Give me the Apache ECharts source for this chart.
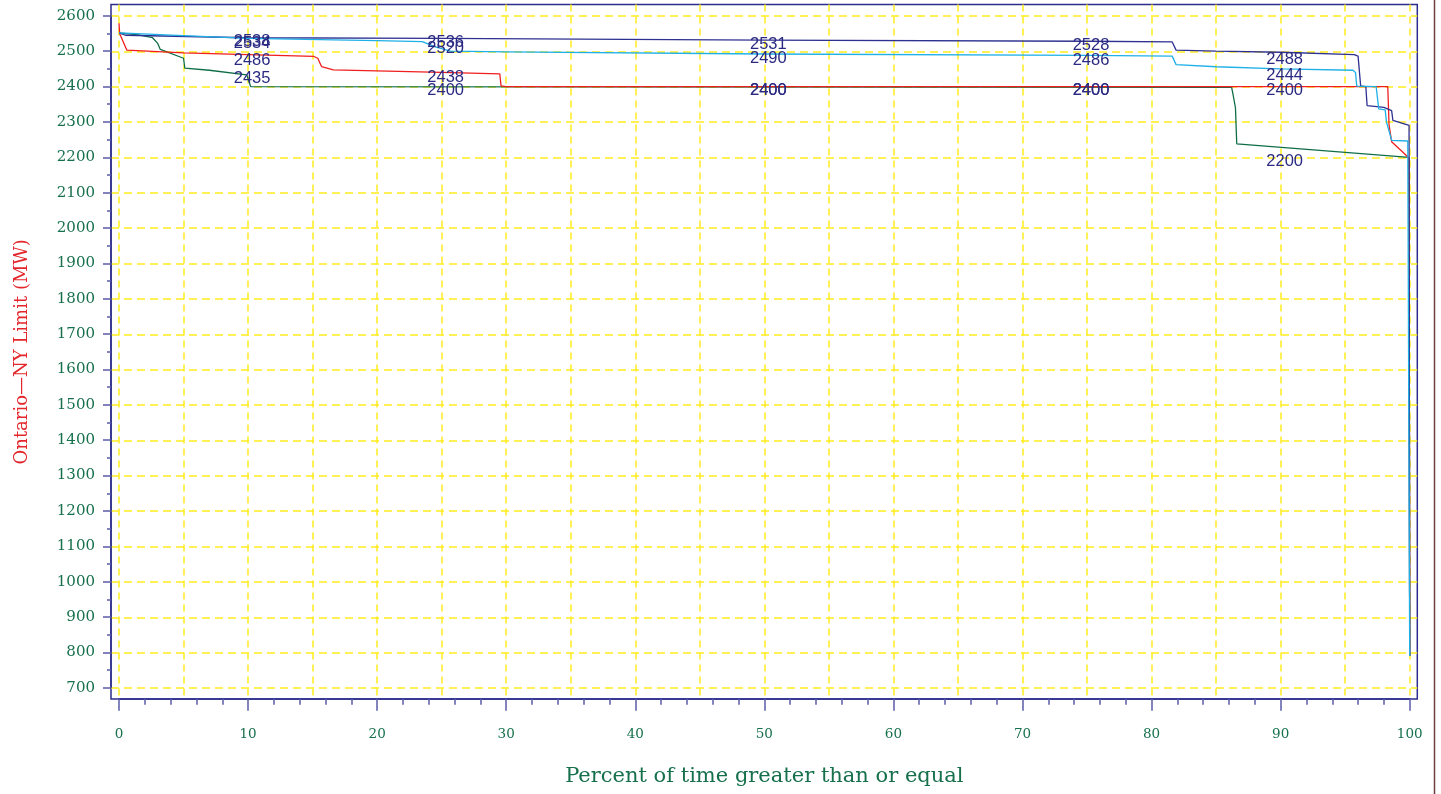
<!DOCTYPE html>
<html>
<head>
<meta charset="utf-8">
<script src="https://cdn.jsdelivr.net/npm/echarts@6/dist/echarts.min.js"></script>
<style>html,body{margin:0;padding:0;background:#fff}#c{width:1441px;height:794px}</style>
</head>
<body>
<div id="c"></div>
<script>
// ---- data ----
const xTitle = 'Percent of time greater than or equal';
const yTitle = 'Ontario\u2014NY Limit (MW)';

const navyCurve = [[0,2552],[0.5,2545],[10,2538],[25,2536],[50,2531],[75,2528],[81.6,2526],[81.9,2503],[85,2500],[90,2497],[95.7,2490],[96.0,2486],[96.2,2402],[96.6,2400],[96.7,2346],[98.0,2341],[98.6,2332],[98.7,2304],[99.95,2290],[100,790]];
const cyanCurve = [[0,2552],[10,2536],[20,2530],[23.5,2527],[24.5,2512],[25.7,2500],[30,2498],[50,2492],[75,2488],[81.6,2486],[81.9,2462],[85,2456],[90,2450],[95.6,2446],[95.8,2440],[95.9,2401],[97.4,2400],[97.6,2337],[98.1,2334],[98.2,2300],[98.6,2248],[99.85,2246],[100,790]];
const redCurve = [[0,2579],[0.05,2550],[0.6,2503],[5,2495],[10,2490],[15.1,2485],[15.4,2480],[15.7,2456],[16.6,2447],[25,2440],[29.5,2436],[29.6,2402],[30,2400],[98.3,2400],[98.4,2292],[98.5,2288],[98.6,2244],[99.95,2198],[100,790]];
const greenCurve = [[0,2552],[1.5,2546],[2.6,2538],[3.0,2522],[3.2,2505],[5.0,2480],[5.1,2452],[7,2446],[9.9,2433],[10.2,2400],[86.2,2398],[86.3,2380],[86.5,2340],[86.6,2238],[99.95,2200],[100,790]];

const labelPercents = [10, 25, 50, 75, 90];
const navyLabels  = [2538, 2536, 2531, 2528, 2488];
const cyanLabels  = [2534, 2520, 2490, 2486, 2444];
const redLabels   = [2486, 2438, 2400, 2400, 2400];
const greenLabels = [2435, 2400, 2400, 2400, 2200];

const xTickLabels = [0,10,20,30,40,50,60,70,80,90,100];
const yTickLabels = [700,800,900,1000,1100,1200,1300,1400,1500,1600,1700,1800,1900,2000,2100,2200,2300,2400,2500,2600];

// ---- chart ----
const navy = '#2b2c8c';
const tickCol = '#5b5ba8';
const green = '#16704c';
const yellow = '#ffec1f';
const serif = '"DejaVu Serif", "Liberation Serif", serif';

const labelData = [];
[navyLabels, cyanLabels, redLabels, greenLabels].forEach(arr => {
  arr.forEach((v, i) => labelData.push([labelPercents[i], v]));
});

const chart = echarts.init(document.getElementById('c'), null, {renderer: 'canvas'});
chart.setOption({
  animation: false,
  backgroundColor: '#ffffff',
  grid: [
    {left: 119, right: 31.3, top: 15.8, bottom: 106.2, containLabel: false},
    {left: 111, right: 23.7, top: 4.5, bottom: 95, show: true, borderColor: navy, borderWidth: 1.5, backgroundColor: 'transparent', z: 0}
  ],
  xAxis: [
    {
      gridIndex: 0, type: 'value', min: 0, max: 100, interval: 10, offset: 11,
      axisLine: {show: true, onZero: false, lineStyle: {color: navy, width: 1.5}},
      axisTick: {show: true, length: 12, lineStyle: {color: tickCol, width: 1.5}},
      minorTick: {show: true, splitNumber: 5, length: 6, lineStyle: {color: tickCol, width: 1.5}},
      axisLabel: {show: true, margin: 29, color: green, fontFamily: serif, fontSize: 13.5,
        formatter: v => (xTickLabels.indexOf(v) >= 0 ? String(v) : '')},
      splitLine: {show: false},
      name: xTitle, nameLocation: 'middle', nameGap: 67,
      nameTextStyle: {color: green, fontFamily: serif, fontSize: 21}
    },
    {
      gridIndex: 1, type: 'value', min: -0.62, max: 100.59, splitNumber: 20,
      axisLine: {show: false}, axisTick: {show: false}, axisLabel: {show: false},
      splitLine: {show: true, showMinLine: false, showMaxLine: false,
        lineStyle: {color: yellow, width: 1.5, type: [7, 5]}}
    }
  ],
  yAxis: [
    {
      gridIndex: 0, type: 'value', min: 700, max: 2600, interval: 100, offset: 8,
      axisLine: {show: true, onZero: false, lineStyle: {color: navy, width: 1.5}},
      axisTick: {show: true, length: 8, lineStyle: {color: tickCol, width: 1.5}},
      minorTick: {show: true, splitNumber: 2, length: 4, lineStyle: {color: tickCol, width: 1.5}},
      axisLabel: {show: true, margin: 16, color: green, fontFamily: serif, fontSize: 15,
        formatter: v => (yTickLabels.indexOf(v) >= 0 ? String(v) : '')},
      splitLine: {show: false},
      name: yTitle, nameLocation: 'middle', nameGap: 80,
      nameTextStyle: {color: '#e3262c', fontFamily: serif, fontSize: 18}
    },
    {
      gridIndex: 1, type: 'value', min: 668.9, max: 2632.5, splitNumber: 19,
      axisLine: {show: false}, axisTick: {show: false}, axisLabel: {show: false},
      splitLine: {show: true, showMinLine: false, showMaxLine: false,
        lineStyle: {color: yellow, width: 1.5, type: [8, 5]}}
    }
  ],
  series: [
    {type: 'line', name: 'green', xAxisIndex: 0, yAxisIndex: 0, data: greenCurve, showSymbol: false, symbol: 'none',
      lineStyle: {color: '#0f6e48', width: 1.3}, z: 3},
    {type: 'line', name: 'red', xAxisIndex: 0, yAxisIndex: 0, data: redCurve, showSymbol: false, symbol: 'none',
      lineStyle: {color: '#f01e1e', width: 1.3}, z: 4},
    {type: 'line', name: 'navy', xAxisIndex: 0, yAxisIndex: 0, data: navyCurve, showSymbol: false, symbol: 'none',
      lineStyle: {color: '#2e3190', width: 1.3}, z: 5},
    {type: 'line', name: 'cyan', xAxisIndex: 0, yAxisIndex: 0, data: cyanCurve, showSymbol: false, symbol: 'none',
      lineStyle: {color: '#1fb0e8', width: 1.3}, z: 6},
    {type: 'scatter', name: 'labels', xAxisIndex: 0, yAxisIndex: 0, data: labelData, symbolSize: 0, z: 7,
      silent: true, itemStyle: {opacity: 1},
      label: {show: true, position: 'inside', offset: [4, 4], formatter: p => String(p.value[1]),
        color: '#2a2a82', opacity: 1, fontFamily: '"Liberation Sans", Arial, sans-serif', fontSize: 16.5}}
  ],
  graphic: [
    {type: 'line', shape: {x1: 1434.5, y1: 0, x2: 1434.5, y2: 794}, style: {stroke: '#6e3f3f', lineWidth: 1.5}, silent: true}
  ]
});
</script>
</body>
</html>
